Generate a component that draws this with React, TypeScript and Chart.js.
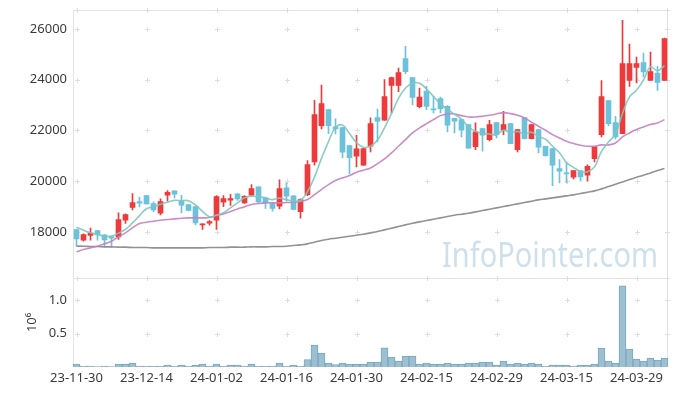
import { useEffect, useRef } from 'react';
import { Chart, registerables } from 'chart.js';

Chart.register(...registerables);

const dates = [
  '23-11-30', '23-12-01', '23-12-04', '23-12-05', '23-12-06', '23-12-07', '23-12-08', '23-12-11', '23-12-12', '23-12-13',
  '23-12-14', '23-12-15', '23-12-18', '23-12-19', '23-12-20', '23-12-21', '23-12-22', '23-12-26', '23-12-27', '23-12-28',
  '24-01-02', '24-01-03', '24-01-04', '24-01-05', '24-01-08', '24-01-09', '24-01-10', '24-01-11', '24-01-12', '24-01-15',
  '24-01-16', '24-01-17', '24-01-18', '24-01-19', '24-01-22', '24-01-23', '24-01-24', '24-01-25', '24-01-26', '24-01-29',
  '24-01-30', '24-01-31', '24-02-01', '24-02-02', '24-02-05', '24-02-06', '24-02-07', '24-02-08', '24-02-13', '24-02-14',
  '24-02-15', '24-02-16', '24-02-19', '24-02-20', '24-02-21', '24-02-22', '24-02-23', '24-02-26', '24-02-27', '24-02-28',
  '24-02-29', '24-03-04', '24-03-05', '24-03-06', '24-03-07', '24-03-08', '24-03-11', '24-03-12', '24-03-13', '24-03-14',
  '24-03-15', '24-03-18', '24-03-19', '24-03-20', '24-03-21', '24-03-22', '24-03-25', '24-03-26', '24-03-27', '24-03-28',
  '24-03-29', '24-04-01', '24-04-02', '24-04-03', '24-04-04',
];

const openP = [
  18092, 17672, 17855, 18053, 17882, 17816, 17803, 18460, 18959, 19195,
  19432, 19117, 18736, 19445, 19616, 19222, 19077, 18998, 18276, 18342,
  18460, 19169, 19248, 19497, 19143, 19445, 19773, 19340, 19117, 19012,
  19734, 19419, 18801, 19471, 20759, 22190, 22821, 22138, 22112, 21402,
  20982, 20627, 21376, 22506, 22401, 23780, 23780, 24831, 24082, 22939,
  23543, 22847, 23254, 22952, 22480, 22427, 22230, 21363, 22072, 21639,
  22309, 22007, 22269, 21245, 22506, 21678, 22033, 21376, 21284, 20496,
  20312, 20154, 20417, 20233, 20890, 21836, 23176, 22309, 21875, 23977,
  24489, 24673, 23977, 24266, 23977,
];
const highP = [
  18100, 17921, 18145, 18060, 17890, 17830, 18749, 18709, 19511, 19366,
  19440, 19182, 19300, 19629, 19620, 19445, 19080, 19000, 18320, 18447,
  19432, 19432, 19484, 19500, 19432, 19865, 19780, 19345, 19143, 20049,
  19931, 19425, 19300, 20811, 23189, 23793, 22830, 22453, 22120, 21410,
  21809, 21290, 22493, 22847, 24003, 24108, 24463, 25317, 24090, 23675,
  23740, 23346, 23320, 22978, 22490, 22435, 22240, 22296, 22080, 22401,
  22315, 22755, 22275, 22040, 22510, 22235, 22040, 21380, 21290, 20851,
  20719, 20420, 20420, 20640, 21370, 23964, 23180, 22558, 26341, 25409,
  24896, 25050, 25093, 24529, 25645,
];
const lowP = [
  17435, 17632, 17672, 17672, 17409, 17409, 17698, 18328, 18867, 18985,
  19090, 18801, 18670, 19222, 19340, 18749, 18830, 18276, 18092, 18263,
  18092, 18998, 19038, 19235, 19117, 19406, 19143, 18920, 18814, 18906,
  19209, 18870, 18539, 19432, 20627, 22059, 21875, 21862, 20916, 20286,
  20562, 20620, 21153, 21547, 22395, 22690, 23530, 24240, 23005, 22887,
  22821, 22690, 22690, 21941, 21901, 21744, 21290, 21245, 21179, 21586,
  21704, 21836, 21475, 21153, 21670, 21670, 21113, 20982, 19826, 19931,
  19931, 20089, 19997, 19997, 20759, 21744, 22190, 21665, 21870, 23740,
  23872, 24108, 23970, 23583, 23970,
];
const closeP = [
  17724, 17895, 17947, 17882, 17685, 17750, 18486, 18683, 19156, 19130,
  19103, 18867, 19195, 19563, 19484, 19051, 18841, 18355, 18315, 18407,
  19392, 19314, 19314, 19300, 19406, 19708, 19182, 19143, 18920, 19708,
  19406, 18880, 19274, 20653, 22624, 23057, 22190, 22059, 21140, 20929,
  21271, 21284, 22269, 22361, 23333, 24082, 24279, 24318, 23307, 23320,
  22952, 22808, 22860, 22203, 22361, 22007, 21297, 21941, 21809, 22230,
  21836, 22230, 21481, 22033, 21678, 22230, 21337, 21008, 20627, 20391,
  20286, 20417, 20167, 20588, 21363, 23333, 22269, 21744, 24634, 24634,
  24634, 24305, 24318, 23898, 25619,
];
const volume = [
  45000, 15000, 15000, 3000, 15000, 3000, 45000, 45000, 60000, 15000,
  15000, 15000, 15000, 30000, 15000, 30000, 15000, 30000, 45000, 15000,
  45000, 15000, 30000, 30000, 15000, 45000, 15000, 15000, 15000, 60000,
  15000, 30000, 15000, 110000, 328000, 209000, 60000, 38000, 60000, 45000,
  45000, 45000, 75000, 75000, 286000, 149000, 90000, 164000, 164000, 45000,
  60000, 45000, 45000, 60000, 45000, 45000, 60000, 60000, 75000, 75000,
  30000, 90000, 45000, 60000, 45000, 60000, 45000, 15000, 30000, 30000,
  30000, 15000, 30000, 30000, 45000, 284000, 90000, 60000, 1211000, 269000,
  119000, 90000, 134000, 104000, 134000,
];
const ma5 = [
  18184, 18066, 17961, 17895, 17827, 17832, 17950, 18097, 18352, 18641,
  18912, 18988, 19090, 19172, 19242, 19232, 19227, 19059, 18809, 18594,
  18662, 18757, 18948, 19145, 19345, 19408, 19382, 19348, 19272, 19332,
  19272, 19211, 19238, 19584, 20167, 20898, 21560, 22117, 22214, 21875,
  21518, 21337, 21379, 21623, 22104, 22666, 23265, 23675, 23864, 23861,
  23635, 23341, 23049, 22829, 22637, 22448, 22146, 21962, 21883, 21857,
  21823, 22009, 21917, 21962, 21852, 21930, 21752, 21657, 21376, 21119,
  20730, 20546, 20378, 20370, 20564, 21174, 21544, 21859, 22669, 23323,
  23583, 23990, 24505, 24358, 24555,
];
const ma20 = [
  17212, 17304, 17369, 17435, 17527, 17632, 17803, 17961, 18158, 18328,
  18381, 18420, 18460, 18486, 18512, 18539, 18552, 18552, 18552, 18565,
  18644, 18709, 18801, 18906, 18985, 19077, 19117, 19143, 19143, 19143,
  19156, 19169, 19195, 19274, 19471, 19668, 19865, 20023, 20128, 20220,
  20351, 20430, 20522, 20693, 20877, 21113, 21376, 21639, 21901, 22098,
  22269, 22427, 22584, 22650, 22650, 22584, 22532, 22532, 22558, 22598,
  22650, 22703, 22663, 22598, 22493, 22322, 22164, 22006, 21835, 21704,
  21573, 21481, 21415, 21376, 21376, 21429, 21429, 21507, 21744, 21901,
  22033, 22138, 22230, 22296, 22427,
];
const maLong = [
  17435, 17435, 17422, 17422, 17409, 17409, 17396, 17396, 17383, 17383,
  17383, 17369, 17369, 17369, 17369, 17369, 17369, 17369, 17369, 17383,
  17383, 17383, 17396, 17396, 17396, 17409, 17409, 17409, 17422, 17422,
  17435, 17461, 17488, 17527, 17593, 17658, 17711, 17750, 17790, 17829,
  17869, 17908, 17961, 18013, 18079, 18145, 18210, 18276, 18342, 18394,
  18447, 18499, 18552, 18604, 18657, 18696, 18736, 18788, 18841, 18893,
  18946, 18998, 19051, 19103, 19156, 19209, 19261, 19300, 19340, 19379,
  19419, 19458, 19511, 19563, 19616, 19695, 19786, 19878, 19970, 20062,
  20154, 20233, 20325, 20417, 20496,
];

const priceTicks = [18000, 20000, 22000, 24000, 26000];
const volumeTicks = [500000, 1000000];
const PRICE_MIN = 16190;
const PRICE_MAX = 26750;
const VOL_MAX = 1333000;

const RED = '#ee3a3a';
const BLUE = '#6cc2da';
const FONT = '"Noto Sans", "DejaVu Sans", sans-serif';
const TEXT = '#3a3a3a';

const decor = {
  id: 'decor',
  beforeDatasetsDraw(chart: any) {
    const { ctx } = chart;
    const x = chart.scales.x;
    const y = chart.scales.y;
    const yv = chart.scales.yv;
    ctx.save();
    // watermark
    ctx.font = `34px ${FONT}`;
    ctx.fillStyle = 'rgba(190,214,228,0.75)';
    ctx.textAlign = 'left';
    ctx.textBaseline = 'alphabetic';
    ctx.fillText('InfoPointer.com', 442, 267, 216);
    // borders
    ctx.strokeStyle = '#e4e4e4';
    ctx.lineWidth = 1;
    const l = Math.round(x.left) + 0.5;
    const r = Math.round(x.right) - 0.5;
    const t = Math.round(y.top) + 0.5;
    const m = Math.round(y.bottom) + 0.5;
    const b = Math.round(yv.bottom) - 0.5;
    ctx.beginPath();
    ctx.moveTo(l, b); ctx.lineTo(l, t); ctx.lineTo(r, t); ctx.lineTo(r, b);
    ctx.moveTo(l, m); ctx.lineTo(r, m);
    ctx.moveTo(l, b); ctx.lineTo(r, b);
    ctx.stroke();
    // crosses
    ctx.strokeStyle = '#dedede';
    const xs: number[] = x.ticks.map((tk: any) => Math.round(x.getPixelForValue(tk.value)));
    xs.push(Math.round(x.right) - 1);
    const ys: number[] = [];
    y.ticks.forEach((tk: any) => ys.push(Math.round(y.getPixelForValue(tk.value))));
    yv.ticks.forEach((tk: any) => ys.push(Math.round(yv.getPixelForValue(tk.value))));
    ys.push(Math.round(y.bottom));
    ys.push(Math.round(y.top));
    ctx.beginPath();
    xs.forEach((px) => {
      ys.forEach((py) => {
        ctx.moveTo(px - 2, py + 0.5); ctx.lineTo(px + 3, py + 0.5);
        ctx.moveTo(px + 0.5, py - 2); ctx.lineTo(px + 0.5, py + 3);
      });
    });
    ctx.stroke();
    ctx.restore();
  },
};

const fixWidth = (s: any) => {
  s.width = 73;
  s.paddingTop = 0;
  s.paddingBottom = 0;
};

export default function App() {
  const ref = useRef<HTMLCanvasElement>(null);
  useEffect(() => {
    if (!ref.current) return;
    const colors = closeP.map((c, i) => (c >= openP[i] ? RED : BLUE));
    const tickFont = { family: FONT, size: 13 };
    const chart = new Chart(ref.current, {
      data: {
        labels: dates,
        datasets: [
          { type: 'line', label: 'MA5', data: ma5, yAxisID: 'y', borderColor: 'rgba(126,198,188,0.9)', borderWidth: 1.6, pointRadius: 0, tension: 0.4, order: 0 },
          { type: 'line', label: 'MA20', data: ma20, yAxisID: 'y', borderColor: 'rgba(198,128,192,0.9)', borderWidth: 1.6, pointRadius: 0, tension: 0.4, order: 0 },
          { type: 'line', label: 'MA120', data: maLong, yAxisID: 'y', borderColor: 'rgba(140,140,140,0.95)', borderWidth: 1.6, pointRadius: 0, tension: 0.4, order: 0 },
          { type: 'bar', label: 'body', data: openP.map((o, i) => [o, closeP[i]]), yAxisID: 'y', backgroundColor: colors, barThickness: 5, minBarLength: 1, grouped: false, order: 1 },
          { type: 'bar', label: 'wick', data: lowP.map((lo, i) => [lo, highP[i]]), yAxisID: 'y', backgroundColor: colors, barThickness: 1, grouped: false, order: 2 },
          { type: 'bar', label: 'volume', data: volume, yAxisID: 'yv', backgroundColor: '#9cc0d2', borderColor: '#7ba7bc', borderWidth: 1, barPercentage: 1, categoryPercentage: 1, grouped: false, order: 3 },
        ] as any,
      },
      options: {
        responsive: false,
        animation: false,
        events: [],
        layout: { padding: { left: 0, right: 9, top: 10, bottom: 0 } },
        plugins: { legend: { display: false }, tooltip: { enabled: false } },
        scales: {
          x: {
            type: 'category',
            offset: true,
            grid: { display: false, drawTicks: false },
            border: { display: false },
            ticks: { autoSkip: false, maxRotation: 0, minRotation: 0, padding: 3, font: tickFont, color: TEXT },
            afterBuildTicks: (s: any) => { s.ticks = s.ticks.filter((tk: any) => tk.value % 10 === 0); },
            afterFit: (s: any) => { s.height = 29; s.paddingLeft = 0; s.paddingRight = 0; },
          },
          y: {
            type: 'linear',
            position: 'left',
            stack: 'main',
            stackWeight: 3,
            weight: 1,
            bounds: 'data',
            min: PRICE_MIN,
            max: PRICE_MAX,
            grid: { display: false, drawTicks: false },
            border: { display: false },
            ticks: { padding: 6, font: tickFont, color: TEXT, callback: (v: any) => String(v) },
            afterBuildTicks: (s: any) => { s.ticks = priceTicks.map((v) => ({ value: v })); },
            afterFit: fixWidth,
          },
          yv: {
            type: 'linear',
            position: 'left',
            stack: 'main',
            stackWeight: 1,
            weight: 0,
            bounds: 'data',
            min: 0,
            max: VOL_MAX,
            grid: { display: false, drawTicks: false },
            border: { display: false },
            title: { display: true, text: '10⁶', font: tickFont, color: TEXT, padding: { top: 24, bottom: 0 } },
            ticks: { padding: 6, font: tickFont, color: TEXT, callback: (v: any) => (Number(v) / 1e6).toFixed(1) },
            afterBuildTicks: (s: any) => { s.ticks = volumeTicks.map((v) => ({ value: v })); },
            afterFit: fixWidth,
          },
        },
      } as any,
      plugins: [decor],
    });
    return () => chart.destroy();
  }, []);
  return (
    <div style={{ position: 'fixed', left: 0, top: 0, width: 677, height: 396, background: '#fff' }}>
      <canvas ref={ref} width={677} height={396} />
    </div>
  );
}
